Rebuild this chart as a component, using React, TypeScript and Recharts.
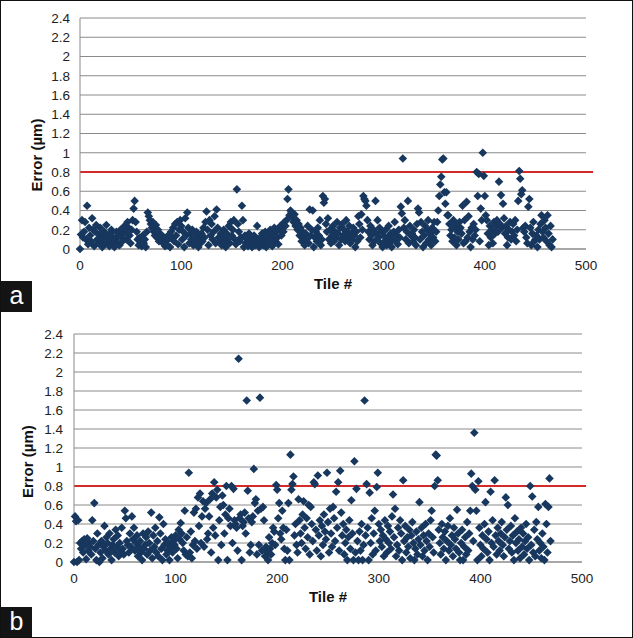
import React from "react";
import {
  ScatterChart,
  Scatter,
  XAxis,
  YAxis,
  CartesianGrid,
  ReferenceLine,
  Label,
} from "recharts";

// Panel (a): error per tile (index = tile #)
const errorA: number[] = [
  0.00, 0.15, 0.30, 0.12, 0.18, 0.28, 0.10, 0.45, 0.05, 0.22, 0.14, 0.08, 0.32, 0.20, 0.03, 0.18, 0.25, 0.10, 0.06, 0.15,
  0.22, 0.08, 0.02, 0.12, 0.18, 0.05, 0.25, 0.14, 0.09, 0.03, 0.16, 0.20, 0.07, 0.12, 0.02, 0.10, 0.18, 0.06, 0.14, 0.04,
  0.20, 0.12, 0.08, 0.16, 0.24, 0.18, 0.10, 0.28, 0.22, 0.14, 0.06, 0.20, 0.30, 0.42, 0.50, 0.28, 0.18, 0.10, 0.04, 0.12,
  0.08, 0.03, 0.14, 0.06, 0.10, 0.02, 0.18, 0.38, 0.34, 0.30, 0.26, 0.22, 0.28, 0.18, 0.14, 0.25, 0.12, 0.20, 0.08, 0.16,
  0.10, 0.14, 0.06, 0.12, 0.03, 0.08, 0.04, 0.10, 0.15, 0.02, 0.18, 0.12, 0.22, 0.08, 0.26, 0.14, 0.28, 0.05, 0.20, 0.30,
  0.24, 0.10, 0.18, 0.02, 0.32, 0.14, 0.38, 0.22, 0.06, 0.16, 0.10, 0.20, 0.04, 0.12, 0.08, 0.18, 0.14, 0.02, 0.10, 0.06,
  0.16, 0.08, 0.22, 0.12, 0.28, 0.39, 0.20, 0.04, 0.30, 0.14, 0.26, 0.10, 0.18, 0.34, 0.06, 0.41, 0.22, 0.12, 0.08, 0.16,
  0.04, 0.12, 0.20, 0.08, 0.02, 0.16, 0.10, 0.24, 0.06, 0.28, 0.14, 0.20, 0.30, 0.10, 0.05, 0.62, 0.26, 0.18, 0.08, 0.12,
  0.45, 0.30, 0.02, 0.14, 0.06, 0.10, 0.03, 0.16, 0.08, 0.12, 0.02, 0.06, 0.14, 0.04, 0.10, 0.24, 0.08, 0.02, 0.12, 0.06,
  0.16, 0.04, 0.10, 0.18, 0.02, 0.08, 0.14, 0.06, 0.20, 0.12, 0.03, 0.16, 0.22, 0.08, 0.18, 0.12, 0.05, 0.20, 0.24, 0.14,
  0.22, 0.18, 0.28, 0.24, 0.30, 0.52, 0.62, 0.35, 0.40, 0.38, 0.32, 0.28, 0.36, 0.24, 0.30, 0.20, 0.26, 0.14, 0.22, 0.08,
  0.18, 0.12, 0.04, 0.16, 0.10, 0.24, 0.06, 0.41, 0.14, 0.20, 0.40, 0.02, 0.12, 0.18, 0.08, 0.22, 0.14, 0.30, 0.04, 0.10,
  0.55, 0.48, 0.52, 0.26, 0.18, 0.32, 0.10, 0.20, 0.06, 0.14, 0.24, 0.08, 0.18, 0.12, 0.28, 0.16, 0.04, 0.22, 0.10, 0.26,
  0.14, 0.20, 0.08, 0.30, 0.18, 0.12, 0.24, 0.06, 0.16, 0.10, 0.22, 0.14, 0.02, 0.18, 0.08, 0.34, 0.26, 0.12, 0.36, 0.20,
  0.55, 0.52, 0.50, 0.45, 0.30, 0.18, 0.10, 0.24, 0.14, 0.04, 0.20, 0.08, 0.50, 0.16, 0.30, 0.12, 0.22, 0.06, 0.18, 0.02,
  0.14, 0.08, 0.20, 0.04, 0.12, 0.24, 0.06, 0.16, 0.02, 0.10, 0.18, 0.28, 0.08, 0.14, 0.05, 0.20, 0.12, 0.44, 0.37, 0.94,
  0.22, 0.30, 0.10, 0.18, 0.50, 0.06, 0.24, 0.14, 0.16, 0.08, 0.20, 0.12, 0.04, 0.26, 0.42, 0.38, 0.10, 0.28, 0.18, 0.02,
  0.14, 0.24, 0.06, 0.20, 0.30, 0.10, 0.16, 0.04, 0.22, 0.12, 0.28, 0.08, 0.18, 0.28, 0.40, 0.55, 0.67, 0.75, 0.93, 0.94,
  0.59, 0.47, 0.59, 0.35, 0.35, 0.26, 0.14, 0.20, 0.08, 0.30, 0.12, 0.24, 0.04, 0.18, 0.10, 0.28, 0.22, 0.16, 0.45, 0.06,
  0.30, 0.08, 0.49, 0.12, 0.34, 0.18, 0.02, 0.22, 0.10, 0.26, 0.14, 0.20, 0.80, 0.55, 0.78, 0.08, 0.42, 0.30, 1.00, 0.76,
  0.55, 0.35, 0.30, 0.16, 0.04, 0.24, 0.12, 0.20, 0.06, 0.28, 0.16, 0.24, 0.30, 0.18, 0.70, 0.26, 0.56, 0.22, 0.47, 0.32,
  0.16, 0.24, 0.04, 0.12, 0.20, 0.28, 0.10, 0.18, 0.26, 0.14, 0.30, 0.08, 0.20, 0.50, 0.81, 0.73, 0.57, 0.61, 0.22, 0.18,
  0.24, 0.12, 0.06, 0.44, 0.52, 0.22, 0.04, 0.16, 0.28, 0.08, 0.10, 0.14, 0.02, 0.20, 0.10, 0.26, 0.35, 0.18, 0.12, 0.30,
  0.22, 0.08, 0.35, 0.16, 0.04, 0.24, 0.02, 0.10,
];

// Panel (b): error per tile (index = tile #)
const errorB: number[] = [
  0.00, 0.48, 0.43, 0.00, 0.44, 0.02, 0.20, 0.14, 0.22, 0.10, 0.24, 0.18, 0.03, 0.25, 0.12, 0.20, 0.16, 0.08, 0.44, 0.22,
  0.62, 0.14, 0.02, 0.30, 0.18, 0.00, 0.10, 0.22, 0.04, 0.16, 0.38, 0.12, 0.26, 0.20, 0.08, 0.30, 0.14, 0.02, 0.18, 0.24,
  0.10, 0.34, 0.16, 0.28, 0.06, 0.20, 0.12, 0.36, 0.14, 0.08, 0.54, 0.46, 0.22, 0.18, 0.10, 0.30, 0.16, 0.48, 0.24, 0.36,
  0.12, 0.20, 0.28, 0.06, 0.16, 0.22, 0.10, 0.02, 0.30, 0.14, 0.18, 0.26, 0.08, 0.32, 0.20, 0.12, 0.52, 0.04, 0.28, 0.16,
  0.36, 0.10, 0.22, 0.06, 0.47, 0.30, 0.14, 0.02, 0.40, 0.18, 0.24, 0.08, 0.12, 0.20, 0.02, 0.16, 0.26, 0.10, 0.22, 0.18,
  0.28, 0.14, 0.04, 0.34, 0.24, 0.41, 0.30, 0.20, 0.12, 0.54, 0.08, 0.26, 0.06, 0.94, 0.10, 0.32, 0.04, 0.18, 0.52, 0.22,
  0.56, 0.14, 0.68, 0.38, 0.72, 0.20, 0.48, 0.64, 0.16, 0.56, 0.62, 0.24, 0.30, 0.48, 0.66, 0.10, 0.72, 0.36, 0.84, 0.28,
  0.68, 0.76, 0.02, 0.44, 0.58, 0.18, 0.70, 0.60, 0.30, 0.50, 0.80, 0.02, 0.46, 0.56, 0.38, 0.80, 0.20, 0.77, 0.44, 0.40,
  0.36, 0.12, 2.14, 0.46, 0.50, 0.02, 0.38, 0.42, 0.52, 0.30, 1.70, 0.75, 0.46, 0.10, 0.18, 0.42, 0.48, 0.98, 0.62, 0.66,
  0.08, 0.54, 0.18, 1.73, 0.56, 0.12, 0.58, 0.44, 0.06, 0.16, 0.10, 0.02, 0.26, 0.14, 0.08, 0.20, 0.36, 0.32, 0.18, 0.81,
  0.76, 0.46, 0.62, 0.30, 0.24, 0.54, 0.36, 0.14, 0.02, 0.34, 0.12, 0.62, 0.02, 1.13, 0.76, 0.82, 0.90, 0.28, 0.40, 0.18,
  0.10, 0.66, 0.44, 0.30, 0.20, 0.50, 0.64, 0.36, 0.14, 0.46, 0.26, 0.60, 0.08, 0.58, 0.40, 0.22, 0.84, 0.82, 0.34, 0.12,
  0.91, 0.28, 0.44, 0.06, 0.38, 0.18, 0.50, 0.32, 0.24, 0.94, 0.42, 0.10, 0.56, 0.30, 0.16, 0.58, 0.46, 0.22, 0.74, 0.36,
  0.84, 0.12, 0.96, 0.52, 0.28, 0.40, 0.08, 0.20, 0.34, 0.02, 0.26, 0.44, 0.14, 0.65, 0.30, 0.02, 1.06, 0.10, 0.77, 0.22,
  0.02, 0.32, 0.12, 0.40, 0.02, 0.18, 1.70, 0.28, 0.82, 0.36, 0.02, 0.73, 0.20, 0.46, 0.08, 0.30, 0.54, 0.12, 0.79, 0.94,
  0.40, 0.22, 0.34, 0.16, 0.28, 0.06, 0.44, 0.24, 0.10, 0.38, 0.20, 0.32, 0.14, 0.48, 0.71, 0.26, 0.56, 0.06, 0.18, 0.36,
  0.12, 0.44, 0.30, 0.02, 0.86, 0.22, 0.38, 0.10, 0.26, 0.16, 0.34, 0.04, 0.28, 0.42, 0.20, 0.02, 0.14, 0.32, 0.08, 0.24,
  0.63, 0.18, 0.36, 0.06, 0.28, 0.12, 0.40, 0.22, 0.02, 0.30, 0.16, 0.44, 0.54, 0.26, 0.10, 0.80, 1.13, 1.12, 0.86, 0.34,
  0.20, 0.08, 0.40, 0.26, 0.14, 0.32, 0.02, 0.22, 0.38, 0.12, 0.46, 0.18, 0.28, 0.06, 0.36, 0.24, 0.14, 0.55, 0.30, 0.10,
  0.02, 0.20, 0.34, 0.02, 0.16, 0.26, 0.08, 0.42, 0.12, 0.30, 0.54, 0.93, 0.80, 0.22, 1.36, 0.76, 0.54, 0.02, 0.85, 0.36,
  0.18, 0.06, 0.28, 0.14, 0.40, 0.63, 0.24, 0.10, 0.32, 0.02, 0.74, 0.20, 0.44, 0.16, 0.86, 0.28, 0.08, 0.36, 0.22, 0.12,
  0.30, 0.42, 0.18, 0.06, 0.26, 0.68, 0.34, 0.60, 0.14, 0.22, 0.38, 0.10, 0.28, 0.02, 0.46, 0.20, 0.32, 0.12, 0.24, 0.04,
  0.36, 0.16, 0.30, 0.08, 0.22, 0.40, 0.14, 0.26, 0.02, 0.80, 0.18, 0.69, 0.10, 0.34, 0.06, 0.42, 0.24, 0.58, 0.12, 0.20,
  0.04, 0.30, 0.16, 0.02, 0.61, 0.40, 0.10, 0.58, 0.88, 0.22,
];

const xTicks = [0, 100, 200, 300, 400, 500];
const yTicks = [0, 0.2, 0.4, 0.6, 0.8, 1, 1.2, 1.4, 1.6, 1.8, 2, 2.2, 2.4];
const threshold = 0.8;
const thresholdEndA = 507;
const thresholdEndB = 504;
const xTitle = "Tile #";
const yTitle = "Error (µm)";
const panelLabels = ["a", "b"];

const FONT = "'Liberation Sans', Arial, Helvetica, sans-serif";
const MARKER = "#17375e";
const GRID = "#8a8a8a";

const Diamond = (props: any) => {
  const { cx, cy } = props;
  if (cx == null || cy == null) return null;
  const r = 4.3;
  return (
    <path
      d={`M${cx},${cy - r}L${cx + r},${cy}L${cx},${cy + r}L${cx - r},${cy}Z`}
      fill={MARKER}
    />
  );
};

type PanelProps = {
  values: number[];
  thresholdEnd: number;
  margin: { top: number; right: number; left: number; bottom: number };
  yAxisWidth: number;
  xAxisHeight: number;
  yTickMargin: number;
  yTitleX: number;
  yTitleShift: number;
};

const Panel = ({ values, thresholdEnd, margin, yAxisWidth, xAxisHeight, yTickMargin, yTitleX, yTitleShift }: PanelProps) => {
  const data = values.map((v, i) => ({ tile: i, error: v }));
  return (
    <ScatterChart width={633} height={300} margin={margin}>
      <CartesianGrid vertical={false} stroke={GRID} strokeWidth={1} horizontalValues={yTicks} />
      <XAxis
        type="number"
        dataKey="tile"
        domain={[0, 500]}
        ticks={xTicks}
        interval={0}
        tickLine={false}
        tickSize={0}
        tickMargin={11}
        height={xAxisHeight}
        axisLine={{ stroke: GRID }}
        tick={{ fill: "#222", fontSize: 13.5, fontFamily: FONT }}
      >
        <Label
          content={(p: any) => {
            const vb = p.viewBox || {};
            return (
              <text
                x={vb.x + vb.width / 2}
                y={vb.y + 34}
                textAnchor="middle"
                dominantBaseline="central"
                fontFamily={FONT}
                fontWeight="bold"
                fontSize={15}
                fill="#111"
              >
                {xTitle}
              </text>
            );
          }}
        />
      </XAxis>
      <YAxis
        type="number"
        dataKey="error"
        domain={[0, 2.4]}
        ticks={yTicks}
        interval={0}
        tickLine={false}
        tickSize={0}
        tickMargin={yTickMargin}
        width={yAxisWidth}
        axisLine={{ stroke: GRID }}
        tick={{ fill: "#222", fontSize: 13.5, fontFamily: FONT }}
      >
        <Label
          content={(p: any) => {
            const vb = p.viewBox || {};
            const cy = vb.y + vb.height / 2 + yTitleShift;
            return (
              <text
                x={yTitleX}
                y={cy}
                transform={`rotate(-90 ${yTitleX} ${cy})`}
                textAnchor="middle"
                dominantBaseline="central"
                fontFamily={FONT}
                fontWeight="bold"
                fontSize={15}
                fill="#111"
              >
                {yTitle}
              </text>
            );
          }}
        />
      </YAxis>
      <ReferenceLine
        segment={[
          { x: 0, y: threshold },
          { x: thresholdEnd, y: threshold },
        ]}
        stroke="#d42a2a"
        strokeWidth={2}
        ifOverflow="visible"
      />
      <Scatter data={data} shape={Diamond} isAnimationActive={false} />
    </ScatterChart>
  );
};

const labelBox = (top: number, text: string) => (
  <div
    style={{
      position: "absolute",
      left: 0,
      top,
      width: 31,
      height: 31,
      background: "#141414",
      color: "#fff",
      fontFamily: FONT,
      fontSize: 25,
      display: "flex",
      alignItems: "center",
      justifyContent: "center",
      lineHeight: 1,
    }}
  >
    <span style={{ marginTop: -2 }}>{text}</span>
  </div>
);

export default function App() {
  return (
    <div
      style={{
        position: "absolute",
        left: 0,
        top: 0,
        width: 633,
        height: 638,
        background: "#fff",
        border: "1px solid #111",
        boxSizing: "border-box",
        overflow: "hidden",
      }}
    >
      <div style={{ position: "absolute", left: -1, top: -1 }}>
        <Panel
          values={errorA}
          thresholdEnd={thresholdEndA}
          margin={{ top: 18, right: 47, left: 0, bottom: 6 }}
          yAxisWidth={80}
          xAxisHeight={45}
          yTickMargin={10}
          yTitleX={36}
          yTitleShift={21.5}
        />
      </div>
      <div style={{ position: "absolute", left: -1, top: 315 }}>
        <Panel
          values={errorB}
          thresholdEnd={thresholdEndB}
          margin={{ top: 18, right: 51, left: 0, bottom: 8 }}
          yAxisWidth={74}
          xAxisHeight={46}
          yTickMargin={11}
          yTitleX={28}
          yTitleShift={13.7}
        />
      </div>
      {labelBox(280, panelLabels[0])}
      {labelBox(606, panelLabels[1])}
    </div>
  );
}
